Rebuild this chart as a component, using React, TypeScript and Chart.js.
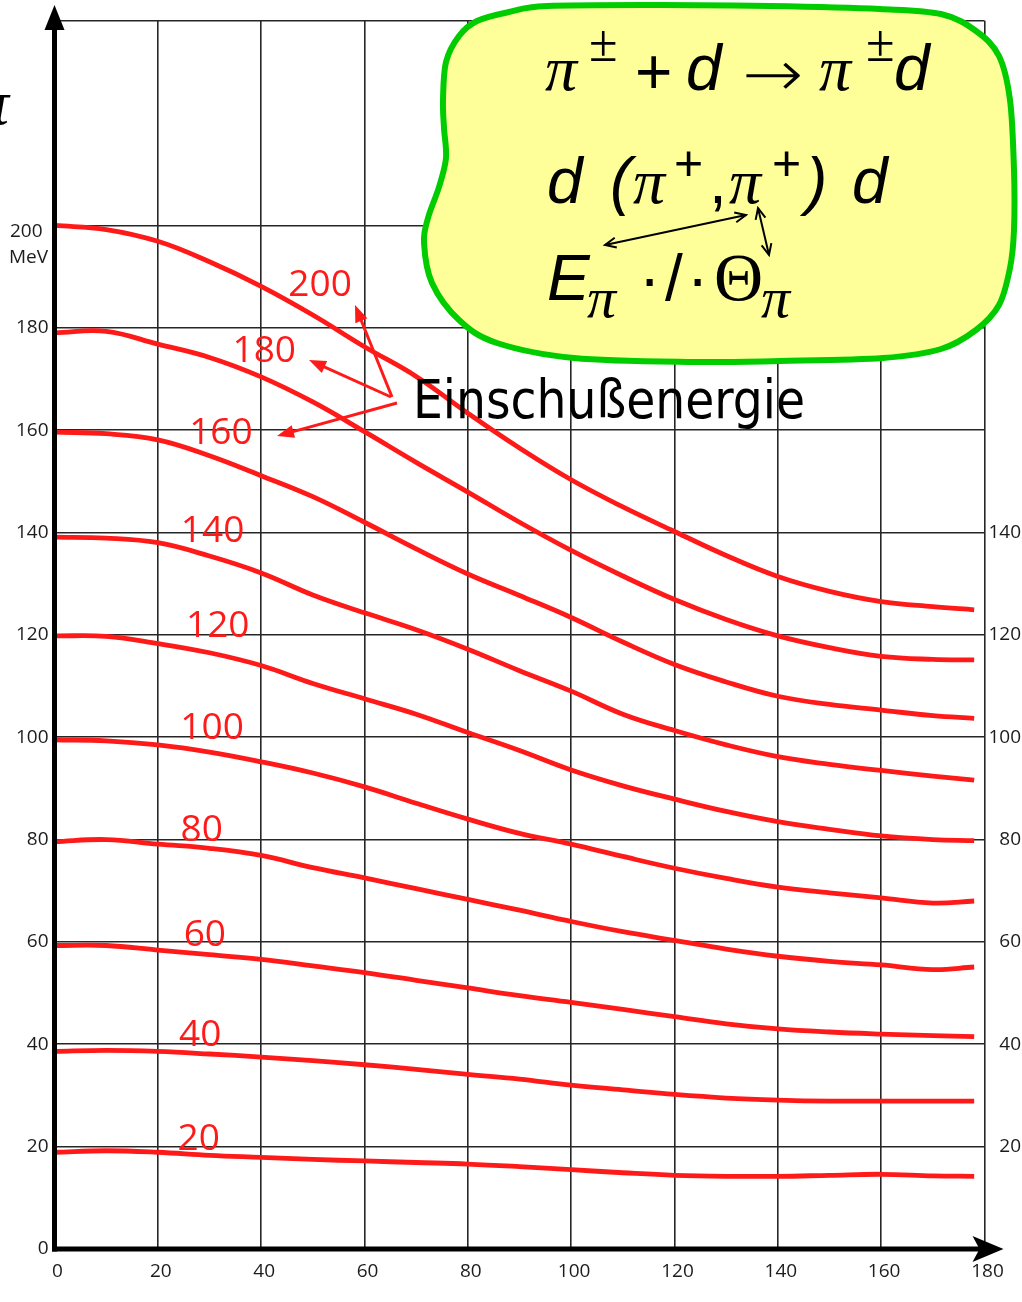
import React, { useEffect, useRef } from 'react';
import { Chart, registerables } from 'chart.js';

Chart.register(...registerables);

// Scattering angle of the pion (degrees)
const angles = [0, 10, 20, 30, 40, 50, 60, 70, 80, 90, 100, 110, 120, 130, 140, 150, 160, 170, 178];

// Scattered pion energy (MeV) for each beam energy
const e200 = [200, 199.2, 196.9, 192.9, 188.1, 182.5, 176.3, 170.5, 163.3, 156.5, 150.3, 145.0, 140.2, 135.5, 131.4, 128.5, 126.5, 125.5, 124.9];
const e180 = [179, 179.3, 176.8, 174.2, 170.4, 165.5, 159.7, 153.7, 147.9, 142, 136.5, 131.5, 126.9, 123, 119.8, 117.5, 115.8, 115.2, 115.1];
const e160 = [159.6, 159.3, 158.1, 155, 151.1, 147, 142, 136.8, 131.9, 127.7, 123.4, 118.6, 114.2, 110.8, 108, 106.4, 105.3, 104.2, 103.7];
const e140 = [139.1, 138.9, 138, 135.4, 132.1, 127.8, 124.3, 121, 117.2, 113, 109, 104.5, 101.3, 98.5, 96.2, 94.7, 93.5, 92.4, 91.6];
const e120 = [119.8, 119.7, 118.3, 116.5, 114, 110.5, 107.5, 104.5, 100.9, 97.4, 93.6, 90.5, 87.9, 85.5, 83.5, 82, 80.7, 80, 79.8];
const e100 = [99.5, 99.3, 98.5, 97.1, 95.2, 93, 90.3, 87.1, 84, 81.2, 79.1, 76.7, 74.4, 72.4, 70.7, 69.6, 68.6, 67.6, 68];
const e80 = [79.6, 80, 79.1, 78.3, 76.9, 74.5, 72.5, 70.4, 68.3, 66.2, 64, 62, 60.3, 58.6, 57.2, 56.2, 55.5, 54.6, 55.1];
const e60 = [59.3, 59.3, 58.4, 57.5, 56.6, 55.3, 54, 52.5, 51, 49.5, 48.2, 46.8, 45.4, 44, 43, 42.4, 42, 41.7, 41.5];
const e40 = [38.6, 38.8, 38.6, 38.1, 37.5, 36.8, 36, 35.1, 34.1, 33.2, 32, 31.1, 30.2, 29.5, 29.1, 28.9, 28.9, 28.9, 28.9];
const e20 = [18.9, 19.2, 18.9, 18.3, 17.9, 17.5, 17.2, 16.9, 16.6, 16.1, 15.5, 14.9, 14.4, 14.2, 14.2, 14.4, 14.6, 14.3, 14.2];

const beamEnergies = [200, 180, 160, 140, 120, 100, 80, 60, 40, 20];
const curves = [e200, e180, e160, e140, e120, e100, e80, e60, e40, e20];

const xTickValues = [0, 20, 40, 60, 80, 100, 120, 140, 160, 180];
const yTickValuesLeft = [0, 20, 40, 60, 80, 100, 120, 140, 160, 180, 200, 240];
const yTickValuesRight = [20, 40, 60, 80, 100, 120, 140];

// Where each beam-energy label sits, in (angle, energy) units
const curveLabelSpots = [
  [51.4, 188.7], [40.6, 175.9], [32.2, 159.9], [30.6, 140.7], [31.6, 122.2],
  [30.5, 102.1], [28.5, 82.2], [29.1, 61.7], [28.2, 42.2], [27.9, 21.9],
];

const RED = '#ff1a1a';
const INK = '#1c1c1c';
const GRID = '#262626';
const SANS = "'Open Sans', 'Noto Sans', sans-serif";
const MATH_SANS = "'Liberation Sans', Arial, sans-serif";
const MATH_SERIF = "'Liberation Serif', 'Times New Roman', serif";

function smoothClosed(ctx: CanvasRenderingContext2D, pts: number[][]) {
  const n = pts.length;
  ctx.beginPath();
  ctx.moveTo(pts[0][0], pts[0][1]);
  for (let i = 0; i < n; i++) {
    const p0 = pts[(i - 1 + n) % n];
    const p1 = pts[i];
    const p2 = pts[(i + 1) % n];
    const p3 = pts[(i + 2) % n];
    const c1x = p1[0] + (p2[0] - p0[0]) / 6;
    const c1y = p1[1] + (p2[1] - p0[1]) / 6;
    const c2x = p2[0] - (p3[0] - p1[0]) / 6;
    const c2y = p2[1] - (p3[1] - p1[1]) / 6;
    ctx.bezierCurveTo(c1x, c1y, c2x, c2y, p2[0], p2[1]);
  }
  ctx.closePath();
}

function arrowHead(ctx: CanvasRenderingContext2D, fx: number, fy: number, tx: number, ty: number, len: number, half: number, filled: boolean) {
  const a = Math.atan2(ty - fy, tx - fx);
  const bx = tx - len * Math.cos(a);
  const by = ty - len * Math.sin(a);
  const px = -Math.sin(a) * half;
  const py = Math.cos(a) * half;
  ctx.beginPath();
  ctx.moveTo(bx + px, by + py);
  ctx.lineTo(tx, ty);
  ctx.lineTo(bx - px, by - py);
  if (filled) {
    ctx.closePath();
    ctx.fill();
  } else {
    ctx.stroke();
  }
}

const overlayPlugin = {
  id: 'overlay',
  afterDraw(chart: any) {
    const { ctx, scales } = chart;
    const x = scales.x;
    const y = scales.y;
    const x0 = x.getPixelForValue(0);
    const y0 = y.getPixelForValue(0);
    const xEnd = x.getPixelForValue(180);

    ctx.save();

    // "200 MeV" tick label on the energy axis
    ctx.fillStyle = INK;
    ctx.font = `19px ${SANS}`;
    ctx.textAlign = 'left';
    ctx.textBaseline = 'alphabetic';
    const y200 = y.getPixelForValue(200);
    ctx.fillText('200', 10, y200 + 12);
    ctx.fillText('MeV', 9, y200 + 38);

    // thick axes with arrow heads
    ctx.strokeStyle = '#000';
    ctx.fillStyle = '#000';
    ctx.lineWidth = 5;
    ctx.beginPath();
    ctx.moveTo(x0, y0 + 2.5);
    ctx.lineTo(x0, 26);
    ctx.stroke();
    ctx.beginPath();
    ctx.moveTo(x0 - 2.5, y0);
    ctx.lineTo(xEnd, y0);
    ctx.stroke();
    ctx.beginPath();
    ctx.moveTo(x0, 5);
    ctx.lineTo(x0 - 10, 30);
    ctx.lineTo(x0 + 10, 30);
    ctx.closePath();
    ctx.fill();
    ctx.beginPath();
    ctx.moveTo(xEnd + 19, y0);
    ctx.lineTo(xEnd - 12, y0 - 13);
    ctx.lineTo(xEnd - 5, y0);
    ctx.lineTo(xEnd - 12, y0 + 13);
    ctx.closePath();
    ctx.fill();

    // clipped symbol at the upper left edge
    ctx.font = `italic 64px ${MATH_SERIF}`;
    ctx.fillText('π', -23, 124);

    // beam energy labels on the curves
    ctx.fillStyle = RED;
    ctx.font = `37px ${SANS}`;
    ctx.textAlign = 'center';
    beamEnergies.forEach((e, i) => {
      const [a, v] = curveLabelSpots[i];
      ctx.fillText(String(e), x.getPixelForValue(a), y.getPixelForValue(v) + 13);
    });

    // red arrows pointing at the 200/180/160 labels
    ctx.strokeStyle = RED;
    ctx.lineWidth = 3;
    const arrows = [
      [392, 397, 355, 305],
      [391, 397, 309, 360],
      [397, 403, 277, 436],
    ];
    arrows.forEach(([fx, fy, tx, ty]) => {
      const a = Math.atan2(ty - fy, tx - fx);
      ctx.beginPath();
      ctx.moveTo(fx, fy);
      ctx.lineTo(tx - 10 * Math.cos(a), ty - 10 * Math.sin(a));
      ctx.stroke();
      arrowHead(ctx, fx, fy, tx, ty, 17, 6.5, true);
    });

    // "Einschußenergie"
    ctx.fillStyle = '#000';
    ctx.textAlign = 'left';
    ctx.font = `54px 'DejaVu Sans', sans-serif`;
    const word = 'Einschußenergie';
    const w = ctx.measureText(word).width;
    ctx.save();
    ctx.translate(413, 418);
    ctx.scale(392 / w, 1);
    ctx.fillText(word, 0, 0);
    ctx.restore();

    // reaction box
    const blob = [
      [509, 12], [547, 6], [660, 5], [770, 6], [880, 9], [941, 14], [976, 31], [999, 56],
      [1010, 100], [1014, 170], [1014, 230], [1010, 268], [999, 305], [976, 330], [941, 349],
      [883, 358], [780, 361], [690, 362], [574, 358], [497, 343], [459, 320], [432, 283],
      [424, 243], [428, 218], [439, 187], [446, 158], [444, 128], [443, 100], [446, 62],
      [459, 36], [477, 21],
    ];
    smoothClosed(ctx, blob);
    ctx.fillStyle = '#ffff99';
    ctx.fill();
    ctx.strokeStyle = '#00cc00';
    ctx.lineWidth = 6;
    ctx.stroke();

    ctx.fillStyle = '#000';
    ctx.textAlign = 'left';
    const put = (s: string, px: number, py: number, font: string) => {
      ctx.font = font;
      ctx.fillText(s, px, py);
    };
    const serifI = `italic 64px ${MATH_SERIF}`;
    const sansI = `italic 64px ${MATH_SANS}`;
    const sans = `64px ${MATH_SANS}`;
    const pm = `52px ${MATH_SERIF}`;
    const sup = `50px ${MATH_SANS}`;
    const sub = `italic 58px ${MATH_SERIF}`;

    // π± + d → π± d
    put('π', 545, 90, serifI);
    put('±', 589, 61, pm);
    put('+', 635, 94, sans);
    put('d', 686, 90, sansI);
    ctx.save();
    ctx.translate(742, 96);
    ctx.scale(1.14, 1);
    put('→', 0, 0, `200 64px 'DejaVu Sans', sans-serif`);
    ctx.restore();
    put('π', 819, 90, serifI);
    put('±', 866, 61, pm);
    put('d', 894, 90, sansI);

    // d (π+, π+) d
    put('d', 547, 203, sansI);
    put('(', 610, 203, sansI);
    put('π', 633, 203, serifI);
    put('+', 674, 180, sup);
    put(',', 709, 203, sans);
    put('π', 729, 203, serifI);
    put('+', 772, 180, sup);
    put(')', 806, 203, sansI);
    put('d', 852, 203, sansI);

    // E_π ·/· Θ_π
    put('E', 547, 300, sansI);
    put('π', 587, 317, sub);
    put('·', 639, 300, sans);
    put('/', 665, 300, sans);
    put('·', 687, 300, sans);
    put('Θ', 714, 300, `68px ${MATH_SERIF}`);
    put('π', 761, 317, sub);

    // double arrows linking the quantities
    ctx.strokeStyle = '#000';
    ctx.lineWidth = 2;
    const dbl = [
      [605, 245, 746, 215],
      [758, 208, 769, 255],
    ];
    dbl.forEach(([ax, ay, bx, by]) => {
      ctx.beginPath();
      ctx.moveTo(ax, ay);
      ctx.lineTo(bx, by);
      ctx.stroke();
      arrowHead(ctx, bx, by, ax, ay, 11, 5, false);
      arrowHead(ctx, ax, ay, bx, by, 11, 5, false);
    });

    ctx.restore();
  },
};

export default function App() {
  const canvasRef = useRef<HTMLCanvasElement | null>(null);

  useEffect(() => {
    if (!canvasRef.current) return;
    const tickFont = { family: SANS, size: 19 };
    const chart = new Chart(canvasRef.current, {
      type: 'line',
      data: {
        datasets: curves.map((vals, i) => ({
          label: `${beamEnergies[i]} MeV`,
          data: angles.map((a, j) => ({ x: a, y: vals[j] })),
          borderColor: RED,
          borderWidth: 4.8,
          pointRadius: 0,
          tension: 0.4,
          fill: false,
        })),
      },
      options: {
        responsive: false,
        animation: false,
        devicePixelRatio: 1,
        layout: { padding: { top: 20.7, right: 1, left: 0, bottom: 0 } },
        plugins: { legend: { display: false }, tooltip: { enabled: false } },
        scales: {
          x: {
            type: 'linear',
            min: 0,
            max: 180,
            afterBuildTicks: (s: any) => { s.ticks = xTickValues.map((v) => ({ value: v })); },
            afterFit: (s: any) => { s.height = 53; },
            grid: { color: GRID, lineWidth: 1.6, drawTicks: false },
            border: { display: false },
            ticks: { font: tickFont, color: INK, padding: 11, labelOffset: 3, maxRotation: 0 },
          },
          y: {
            type: 'linear',
            position: 'left',
            min: 0,
            max: 240,
            afterBuildTicks: (s: any) => { s.ticks = yTickValuesLeft.map((v) => ({ value: v })); },
            afterFit: (s: any) => { s.width = 54.5; },
            grid: { color: GRID, lineWidth: 1.6, drawTicks: false },
            border: { display: false },
            ticks: {
              font: tickFont,
              color: INK,
              padding: 6,
              callback: (v: any) => (v === 200 || v === 240 ? '' : String(v)),
            },
          },
          y2: {
            type: 'linear',
            position: 'right',
            min: 0,
            max: 240,
            afterBuildTicks: (s: any) => { s.ticks = yTickValuesRight.map((v) => ({ value: v })); },
            afterFit: (s: any) => { s.width = 36.5; },
            grid: { display: false, drawTicks: false },
            border: { display: false },
            ticks: { font: tickFont, color: INK, padding: 0, crossAlign: 'far', callback: (v: any) => String(v) },
          },
        },
      },
      plugins: [overlayPlugin],
    } as any);
    return () => chart.destroy();
  }, []);

  return (
    <div style={{ position: 'absolute', left: 0, top: 0, width: 1022, height: 1302, background: '#fff' }}>
      <canvas ref={canvasRef} width={1022} height={1302} style={{ display: 'block' }} />
    </div>
  );
}
